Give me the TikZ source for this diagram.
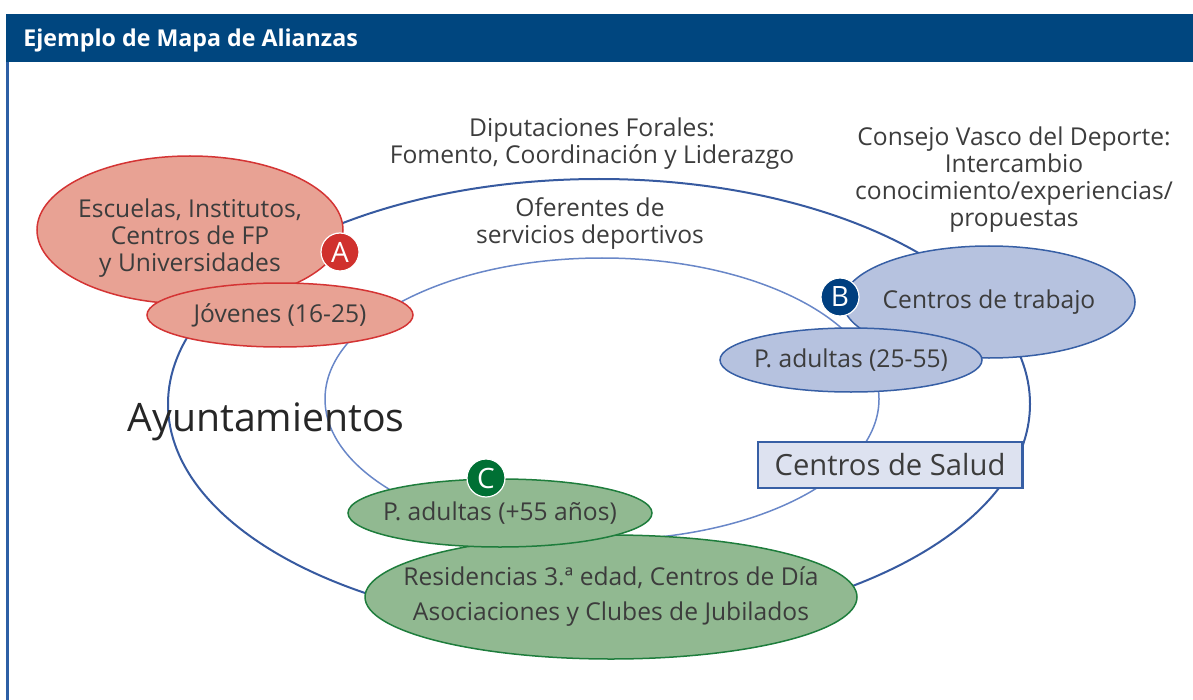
\documentclass[tikz,border=0pt]{standalone}
\usepackage{fontspec}
\setmainfont{Open Sans}
\usetikzlibrary{shapes.geometric}
\definecolor{headblue}{RGB}{0,70,127}
\definecolor{frameblue}{RGB}{45,95,165}
\definecolor{ringblue}{RGB}{55,90,160}
\definecolor{innerblue}{RGB}{105,135,200}
\definecolor{textgray}{RGB}{60,60,60}
\definecolor{redfill}{RGB}{232,162,148}
\definecolor{redline}{RGB}{212,52,52}
\definecolor{reddot}{RGB}{208,49,45}
\definecolor{bluefill}{RGB}{182,194,223}
\definecolor{blueline}{RGB}{55,95,165}
\definecolor{bluedot}{RGB}{0,63,127}
\definecolor{greenfill}{RGB}{145,185,145}
\definecolor{greenline}{RGB}{30,125,60}
\definecolor{greendot}{RGB}{0,112,52}
\definecolor{boxfill}{RGB}{221,226,240}
\tikzset{
	txt/.style={text=textgray, align=center, font=\fontsize{12.3}{13.5}\selectfont},
	oval/.style={ellipse, inner sep=0pt, line width=0.75pt},
	ring/.style={ellipse, inner sep=0pt, minimum width=#1},
	badge/.style={circle, inner sep=0pt, minimum size=19pt, fill=#1, text=white, draw=white, line width=0.6pt, font=\fontsize{14}{14}\selectfont}
}

\begin{document}
\begin{tikzpicture}[x=0.5pt,y=-0.5pt]
	\useasboundingbox (0,0) rectangle (1193,700);
	\fill[headblue] (6,14) rectangle (1193,62);
	\draw[frameblue, line width=1.5pt] (7.5,62) -- (7.5,700);
	\node[anchor=west, inner sep=0pt, text=white, font=\bfseries\fontsize{11.6}{13}\selectfont] (title) at (23,40) {Ejemplo de Mapa de Alianzas};
	\node[ring=431pt, minimum height=225pt, draw=ringblue, line width=1pt] (outer) at (599,404) {};
	\node[ring=277pt, minimum height=141pt, draw=innerblue, line width=0.75pt] (inner) at (602,399) {};
	\node[txt] (diput) at (592,144) {Diputaciones Forales:\\Fomento, Coordinación y Liderazgo};
	\node[txt] (oferentes) at (590,224) {Oferentes de\\servicios deportivos};
	\node[txt] (consejo) at (1014,180) {Consejo Vasco del Deporte:\\Intercambio\\conocimiento/experiencias/\\propuestas};
	\node[text=black!85, font=\fontsize{19.6}{22}\selectfont] (ayunt) at (266,422) {Ayuntamientos};
	\node[oval, fill=redfill, draw=redline, minimum width=153pt, minimum height=74pt,
		label={[txt, yshift=-4pt]center:{Escuelas, Institutos,\\Centros de FP\\y Universidades}}] (escuelas) at (190,230) {};
	\node[oval, fill=redfill, draw=redline, minimum width=133pt, minimum height=32pt,
		label={[txt]center:Jóvenes (16-25)}] (jovenes) at (280,315) {};
	\node[badge=reddot] (a) at (340,252) {A};
	\node[oval, fill=bluefill, draw=blueline, minimum width=146pt, minimum height=56pt,
		label={[txt]center:Centros de trabajo}] (trabajo) at (989,302) {};
	\node[oval, fill=bluefill, draw=blueline, minimum width=131pt, minimum height=32pt,
		label={[txt]center:P. adultas (25-55)}] (adultas) at (851,360) {};
	\node[badge=bluedot] (b) at (840,297) {B};
	\node[rectangle, draw=blueline, fill=boxfill, line width=0.75pt, minimum width=132pt, minimum height=23pt, inner sep=0pt, text=textgray, font=\fontsize{14.6}{15}\selectfont] (salud) at (890,465) {Centros de Salud};
	\draw[blueline, line width=1.6pt] (salud.north east) -- (salud.south east);
	\node[oval, fill=greenfill, draw=greenline, minimum width=246pt, minimum height=62pt,
		label={[txt, font=\fontsize{12.3}{17.5}\selectfont]center:{Residencias 3.ª edad, Centros de Día\\Asociaciones y Clubes de Jubilados}}] (residencias) at (611,597) {};
	\node[oval, fill=greenfill, draw=greenline, minimum width=152pt, minimum height=34pt,
		label={[txt]center:P. adultas (+55 años)}] (mayores) at (500,513) {};
	\node[badge=greendot] (c) at (486,478) {C};
\end{tikzpicture}
\end{document}
